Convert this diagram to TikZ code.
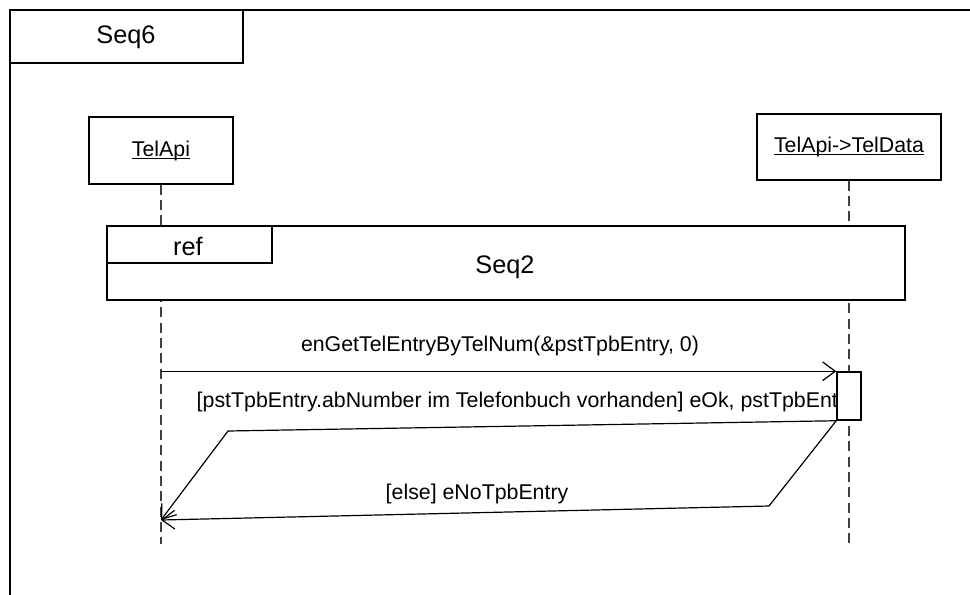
\documentclass[tikz,border=0pt]{standalone}
\usepackage{fontspec}
\setmainfont{Liberation Sans}
\usetikzlibrary{arrows.meta, positioning}
\newcommand{\headul}[1]{{\setbox0\hbox{#1}\leavevmode\rlap{\rule[-2.2pt]{\wd0}{0.8pt}}\box0}}

\begin{document}
\begin{tikzpicture}[x=0.75pt, y=-0.75pt, line width=1.1pt,
    head/.style={draw, fill=white, inner sep=0pt, font=\fontsize{16}{19}\selectfont},
    bigtext/.style={inner sep=0pt, font=\fontsize{19}{22}\selectfont},
    msgtext/.style={inner sep=0pt, font=\fontsize{16}{19}\selectfont},
    lifeline/.style={line width=1pt, black!75, dash pattern=on 7.5pt off 4pt},
    msg/.style={line width=0.9pt, -{Straight Barb[length=9.5pt, width=14pt, line width=0.9pt]}}]
    \useasboundingbox (0,0) rectangle (970,595);
    \clip (0,0) rectangle (970,595);

    % outer frame and its tab
    \draw (10,620) -- (10,10) -- (990,10);
    \draw (10,10) rectangle (243,63);
    \node[bigtext] (seqsix) at (126,37) {Seq6};

    % lifeline heads
    \node[head, minimum width=108pt, minimum height=50pt] (telapi) at (161,150.5) {\headul{TelApi}};
    \node[head, minimum width=138pt, minimum height=49.5pt] (teldata) at (849,147) {\headul{TelApi->TelData}};

    % lifelines
    \coordinate (apiend) at (161,544);
    \coordinate (dataend) at (849,544);
    \draw[lifeline] (telapi.south) -- (apiend);
    \draw[lifeline] (teldata.south) -- (dataend);

    % interaction use
    \node[draw, fill=white, minimum width=598.5pt, minimum height=55.5pt] (reffrm) at (506,263) {};
    \draw (reffrm.north west) rectangle (272,263);
    \node[bigtext] (reflbl) at (188,246) {ref};
    \node[bigtext] (seqtwo) at (505,267) {Seq2};

    % call
    \node[msgtext, anchor=base] (calllbl) at (500,351) {enGetTelEntryByTelNum(\&pstTpbEntry, 0)};
    \node[msgtext, anchor=base west] (oklbl) at (196,407) {[pstTpbEntry.abNumber im Telefonbuch vorhanden] eOk, pstTpbEntry};
    \node[msgtext, anchor=base west] (elselbl) at (385,499) {[else] eNoTpbEntry};

    % activation
    \node[draw, fill=white, minimum width=18pt, minimum height=36pt] (act) at (849,396) {};

    \coordinate (tip) at (161,520);
    \coordinate (okbend) at (228,431);
    \coordinate (elsebend) at (769,506);
    \draw[msg] (telapi |- act.north west) -- (act.north west);
    \draw[msg] (act.south west) -- (okbend) -- (tip);
    \draw[msg] (act.south west) -- (elsebend) -- (tip);
\end{tikzpicture}
\end{document}
